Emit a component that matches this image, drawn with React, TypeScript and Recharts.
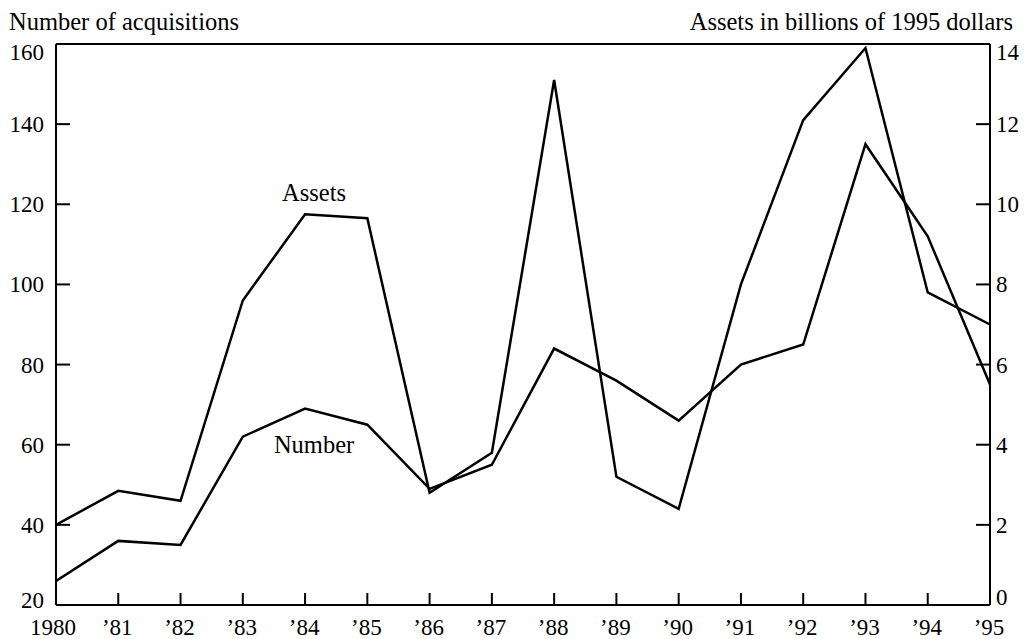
import { LineChart, Line, XAxis, YAxis, ReferenceLine, ReferenceDot } from "recharts";

const years = ["1980", "’81", "’82", "’83", "’84", "’85", "’86", "’87", "’88", "’89", "’90", "’91", "’92", "’93", "’94", "’95"];
// number of acquisitions (left axis)
const numberAcq = [26, 36, 35, 62, 69, 65, 49, 55, 84, 76, 66, 80, 85, 135, 112, 75];
// assets, billions of 1995 dollars (right axis)
const assets = [2.0, 2.85, 2.6, 7.6, 9.75, 9.65, 2.8, 3.8, 13.1, 3.2, 2.4, 8.0, 12.1, 13.9, 7.8, 7.0];

const leftTicks = [20, 40, 60, 80, 100, 120, 140, 160];
const rightTicks = [0, 2, 4, 6, 8, 10, 12, 14];

const data = years.map((year, i) => ({ year, number: numberAcq[i], assets: assets[i] }));

const W = 1026;
const H = 639;
const LEFT = 56;
const RIGHT = 36;
const TOP = 44;
const BOTTOM = 34;
const FONT = '"Liberation Serif", "Times New Roman", serif';
const FS = 23; // tick numbers
const TS = 24.5; // words

const LeftTick = (props: any) => {
  const { y, payload, index } = props;
  const last = index === leftTicks.length - 1;
  const first = index === 0;
  const ty = first ? y - 5 : last ? y + 8 : y;
  return (
    <g>
      {!first && !last && <line x1={LEFT} x2={LEFT + 14} y1={y} y2={y} stroke="#000" strokeWidth={2} />}
      <text x={LEFT - 12} y={ty} dy="0.35em" textAnchor="end" fontSize={FS} fontFamily={FONT} fill="#000">
        {payload.value}
      </text>
    </g>
  );
};

const RightTick = (props: any) => {
  const { y, payload, index } = props;
  const axisX = W - RIGHT;
  const last = index === rightTicks.length - 1;
  const first = index === 0;
  const ty = first ? y - 8 : last ? y + 8 : y;
  return (
    <g>
      {!first && !last && <line x1={axisX - 14} x2={axisX} y1={y} y2={y} stroke="#000" strokeWidth={2} />}
      <text x={axisX + 6} y={ty} dy="0.35em" textAnchor="start" fontSize={FS} fontFamily={FONT} fill="#000">
        {payload.value}
      </text>
    </g>
  );
};

const BottomTick = (props: any) => {
  const { x, payload, index } = props;
  const axisY = H - BOTTOM;
  const edge = index === 0 || index === years.length - 1;
  return (
    <g>
      {!edge && <line x1={x} x2={x} y1={axisY - 12} y2={axisY} stroke="#000" strokeWidth={2} />}
      <text x={index === 0 ? x - 3 : x - 1} y={axisY + 22} dy="0.35em" textAnchor="middle" fontSize={FS} fontFamily={FONT} fill="#000">
        {payload.value}
      </text>
    </g>
  );
};

export default function App() {
  return (
    <div style={{ position: "absolute", left: 0, top: 0, width: W, height: H, background: "#fff", fontFamily: FONT }}>
      <div style={{ position: "absolute", left: 9, top: 7, fontSize: TS, lineHeight: "30px", whiteSpace: "nowrap" }}>Number of acquisitions</div>
      <div style={{ position: "absolute", right: W - 1013, top: 7, fontSize: TS, lineHeight: "30px", whiteSpace: "nowrap" }}>
        Assets in billions of 1995 dollars
      </div>
      <LineChart width={W} height={H} data={data} margin={{ top: TOP, right: 0, bottom: 0, left: 0 }}>
        <XAxis
          dataKey="year"
          height={BOTTOM}
          interval={0}
          axisLine={{ stroke: "#000", strokeWidth: 2 }}
          tickLine={false}
          tick={<BottomTick />}
        />
        <YAxis
          yAxisId="left"
          width={LEFT}
          domain={[20, 160]}
          ticks={leftTicks}
          axisLine={{ stroke: "#000", strokeWidth: 2 }}
          tickLine={false}
          tick={<LeftTick />}
        />
        <YAxis
          yAxisId="right"
          orientation="right"
          width={RIGHT}
          domain={[0, 14]}
          ticks={rightTicks}
          axisLine={{ stroke: "#000", strokeWidth: 2 }}
          tickLine={false}
          tick={<RightTick />}
        />
        <ReferenceLine yAxisId="left" y={160} stroke="#000" strokeWidth={2} />
        <Line yAxisId="left" dataKey="number" stroke="#000" strokeWidth={2.5} dot={false} isAnimationActive={false} />
        <Line yAxisId="right" dataKey="assets" stroke="#000" strokeWidth={2.5} dot={false} isAnimationActive={false} />
        <ReferenceDot
          yAxisId="left"
          x="’84"
          y={123}
          r={0}
          fill="none"
          stroke="none"
          label={{ value: "Assets", position: "center", fill: "#000", fontSize: TS, fontFamily: FONT, dx: 9 }}
        />
        <ReferenceDot
          yAxisId="left"
          x="’84"
          y={60}
          r={0}
          fill="none"
          stroke="none"
          label={{ value: "Number", position: "center", fill: "#000", fontSize: TS, fontFamily: FONT, dx: 9 }}
        />
      </LineChart>
    </div>
  );
}
